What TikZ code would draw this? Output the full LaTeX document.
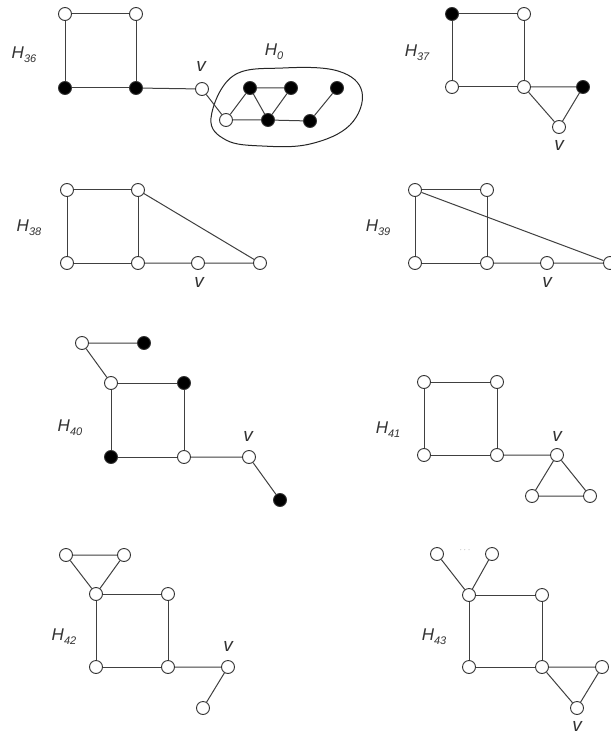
\documentclass[tikz,border=0pt]{standalone}
\usepackage{fontspec}
\setmainfont{Liberation Sans}
\newcommand{\Hlab}[1]{\fontsize{17}{17}\selectfont\itshape H\raisebox{-0.45ex}{\fontsize{11}{11}\selectfont #1}}
\begin{document}
\begin{tikzpicture}[x=1pt,y=-1pt,
  edge/.style={draw=black!75, line width=1pt},
  wn/.style={circle, draw=black!80, line width=0.9pt, fill=white, inner sep=0pt, minimum size=13pt},
  bn/.style={wn, fill=black},
  lab/.style={text=black!80, inner sep=0pt},
  vlab/.style={lab, font=\fontsize{19}{19}\selectfont\itshape}]
\useasboundingbox (0,0) rectangle (610,735);
\fill[white] (0,0) rectangle (610,735);

% ---------- H36 ----------
\node[lab] (l36) at (24,55) {\Hlab{36}};
\node[wn] (a1) at (65,14) {};
\node[wn] (a2) at (136,14) {};
\node[bn] (a3) at (65,88) {};
\node[bn] (a4) at (136,88) {};
\node[wn] (av) at (202,89) {};
\node[vlab] (avl) at (201,66) {v};
\draw[black!85, line width=1pt] plot[smooth cycle, tension=0.65] coordinates {(211,118) (233,76) (283,68) (338,71) (362,92) (350,125) (310,144) (262,146) (226,140)};
\node[lab] (l0) at (274,52) {\Hlab{0}};
\node[wn] (b1) at (226,120) {};
\node[bn] (b2) at (250,88) {};
\node[bn] (b3) at (291,88) {};
\node[bn] (b4) at (337,88) {};
\node[bn] (b5) at (268,120) {};
\node[bn] (b6) at (310,121) {};
\draw[edge] (a1) -- (a2) -- (a4) -- (a3) -- (a1);
\draw[edge] (a4) -- (av) -- (b1);
\draw[edge] (b1) -- (b2) -- (b3) -- (b5) -- (b2);
\draw[edge] (b1) -- (b5) -- (b6) -- (b4);

% ---------- H37 ----------
\node[lab] (l37) at (417,53) {\Hlab{37}};
\node[bn] (c1) at (452,14) {};
\node[wn] (c2) at (524,14) {};
\node[wn] (c3) at (452,87) {};
\node[wn] (c4) at (524,87) {};
\node[bn] (c5) at (583,87) {};
\node[wn] (cv) at (559,127) {};
\node[vlab] (cvl) at (559,145) {v};
\draw[edge] (c1) -- (c2) -- (c4) -- (c3) -- (c1);
\draw[edge] (c4) -- (c5) -- (cv) -- (c4);

% ---------- H38 ----------
\node[lab] (l38) at (29,228) {\Hlab{38}};
\node[wn] (d1) at (67,190) {};
\node[wn] (d2) at (138,190) {};
\node[wn] (d3) at (67,263) {};
\node[wn] (d4) at (138,263) {};
\node[wn] (dv) at (198,263) {};
\node[wn] (d5) at (260,263) {};
\node[vlab] (dvl) at (199,282) {v};
\draw[edge] (d1) -- (d2) -- (d4) -- (d3) -- (d1);
\draw[edge] (d4) -- (dv) -- (d5) -- (d2);

% ---------- H39 ----------
\node[lab] (l39) at (378,228) {\Hlab{39}};
\node[wn] (e1) at (415,190) {};
\node[wn] (e2) at (487,190) {};
\node[wn] (e3) at (415,263) {};
\node[wn] (e4) at (487,263) {};
\node[wn] (ev) at (547,263) {};
\node[wn] (e5) at (610,263) {};
\node[vlab] (evl) at (547,282) {v};
\draw[edge] (e1) -- (e2) -- (e4) -- (e3) -- (e1);
\draw[edge] (e4) -- (ev) -- (e5) -- (e1);

% ---------- H40 ----------
\node[lab] (l40) at (70,428) {\Hlab{40}};
\node[wn] (f1) at (82,343) {};
\node[bn] (f2) at (144,343) {};
\node[wn] (f3) at (111,383) {};
\node[bn] (f4) at (184,383) {};
\node[bn] (f5) at (111,457) {};
\node[wn] (f6) at (184,457) {};
\node[wn] (fv) at (249,457) {};
\node[bn] (f7) at (280,500) {};
\node[vlab] (fvl) at (248,436) {v};
\draw[edge] (f2) -- (f1) -- (f3);
\draw[edge] (f3) -- (f4) -- (f6) -- (f5) -- (f3);
\draw[edge] (f6) -- (fv) -- (f7);

% ---------- H41 ----------
\node[lab] (l41) at (388,430) {\Hlab{41}};
\node[wn] (g1) at (424,382) {};
\node[wn] (g2) at (497,382) {};
\node[wn] (g3) at (424,455) {};
\node[wn] (g4) at (497,455) {};
\node[wn] (gv) at (557,455) {};
\node[wn] (g5) at (532,496) {};
\node[wn] (g6) at (590,496) {};
\node[vlab] (gvl) at (557,436) {v};
\draw[edge] (g1) -- (g2) -- (g4) -- (g3) -- (g1);
\draw[edge] (g4) -- (gv) -- (g5) -- (g6) -- (gv);

% ---------- H42 ----------
\node[lab] (l42) at (64,637) {\Hlab{42}};
\node[wn] (h1) at (66,555) {};
\node[wn] (h2) at (124,555) {};
\node[wn] (h3) at (96,594) {};
\node[wn] (h4) at (168,594) {};
\node[wn] (h5) at (96,667) {};
\node[wn] (h6) at (168,667) {};
\node[wn] (hv) at (228,667) {};
\node[wn] (h7) at (203,708) {};
\node[vlab] (hvl) at (228,646) {v};
\draw[edge] (h1) -- (h2) -- (h3) -- (h1);
\draw[edge] (h3) -- (h4) -- (h6) -- (h5) -- (h3);
\draw[edge] (h6) -- (hv) -- (h7);

% ---------- H43 ----------
\node[lab] (l43) at (434,637) {\Hlab{43}};
\node[wn] (k1) at (437,554) {};
\node[wn] (k2) at (492,554) {};
\node[text=black!45, inner sep=0pt, font=\fontsize{9}{9}\selectfont] (kd) at (465,550) {$\cdots$};
\node[wn] (k3) at (469,595) {};
\node[wn] (k4) at (542,595) {};
\node[wn] (k5) at (469,667) {};
\node[wn] (k6) at (542,667) {};
\node[wn] (k7) at (602,667) {};
\node[wn] (kv) at (577,708) {};
\node[vlab] (kvl) at (577,726) {v};
\draw[edge] (k1) -- (k3) -- (k2);
\draw[edge] (k3) -- (k4) -- (k6) -- (k5) -- (k3);
\draw[edge] (k6) -- (k7) -- (kv) -- (k6);
\end{tikzpicture}
\end{document}
